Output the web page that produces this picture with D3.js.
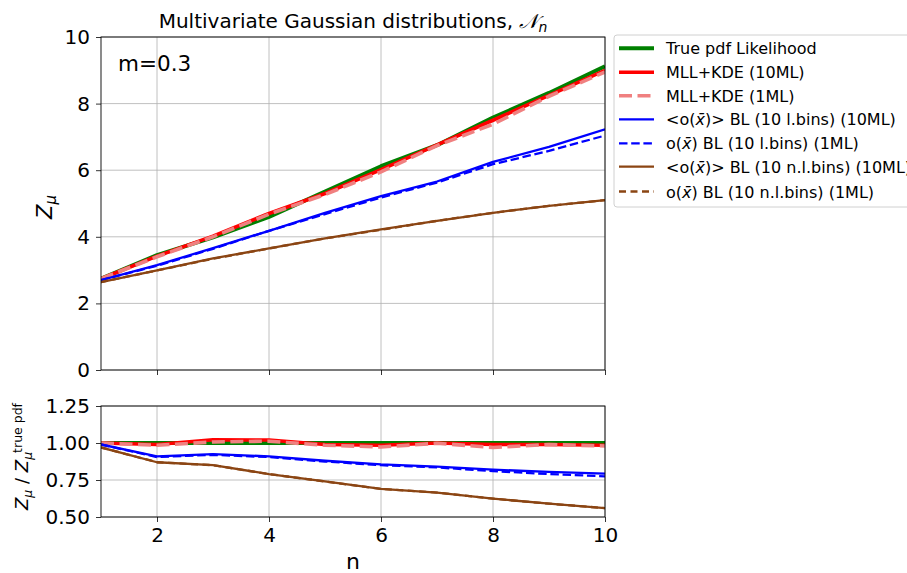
<!DOCTYPE html>
<html><head><meta charset="utf-8">
<script src="https://cdn.jsdelivr.net/npm/d3@7"></script>
<style>body{margin:0;background:#fff}text{font-family:"DejaVu Sans",sans-serif}</style>
</head><body><svg id="c" width="907" height="573"></svg>
<script>
const nVals = [1,2,3,4,5,6,7,8,9,10];
const truePdf  = [2.74,3.45,3.98,4.60,5.36,6.12,6.75,7.58,8.32,9.12];
const mll10    = [2.74,3.42,4.02,4.70,5.30,6.02,6.76,7.50,8.25,9.00];
const mll1     = [2.74,3.40,4.00,4.68,5.27,5.95,6.74,7.38,8.22,8.95];
const blue10   = [2.70,3.15,3.66,4.18,4.72,5.22,5.66,6.25,6.70,7.23];
const blue1    = [2.70,3.13,3.64,4.18,4.68,5.18,5.63,6.18,6.58,7.04];
const brown10  = [2.64,2.99,3.35,3.65,3.95,4.22,4.48,4.72,4.93,5.10];
const brown1   = [2.64,2.99,3.34,3.65,3.95,4.21,4.48,4.72,4.93,5.10];

const trueR    = [1,1,1,1,1,1,1,1,1,1];
const mll10R   = [1.00,0.99,1.022,1.02,0.99,0.985,1.00,0.99,0.99,0.985];
const mll1R    = [1.00,0.985,1.007,1.012,0.985,0.973,0.998,0.97,0.99,0.98];
const blue10R  = [0.99,0.91,0.925,0.91,0.88,0.855,0.84,0.82,0.805,0.793];
const blue1R   = [0.99,0.905,0.92,0.905,0.875,0.85,0.835,0.81,0.79,0.775];
const brown10R = [0.97,0.87,0.85,0.79,0.74,0.69,0.665,0.624,0.59,0.56];
const brown1R  = [0.97,0.87,0.85,0.79,0.74,0.69,0.665,0.624,0.59,0.56];

const xTicks = [2,4,6,8,10];
const yTicksTop = [0,2,4,6,8,10];
const yTicksBot = [0.50,0.75,1.00,1.25];

const seriesStyle = [
  {name:"True pdf Likelihood", top:truePdf, bot:trueR, color:"green", w:4, dash:null},
  {name:"MLL+KDE (10ML)", top:mll10, bot:mll10R, color:"red", w:3.6, dash:null},
  {name:"MLL+KDE (1ML)", top:mll1, bot:mll1R, color:"#f08080", w:3.6, dash:"13,5.5"},
  {name:"<o(x̄)> BL (10 l.bins) (10ML)", top:blue10, bot:blue10R, color:"blue", w:2.3, dash:null, ox:true, br:true},
  {name:"o(x̄) BL (10 l.bins) (1ML)", top:blue1, bot:blue1R, color:"blue", w:2.3, dash:"8.5,3.7", ox:true},
  {name:"<o(x̄)> BL (10 n.l.bins) (10ML)", top:brown10, bot:brown10R, color:"#8b4513", w:2.3, dash:null, ox:true, br:true},
  {name:"o(x̄) BL (10 n.l.bins) (1ML)", top:brown1, bot:brown1R, color:"#8b4513", w:2.3, dash:"7,4.5", ox:true}
];

const svg = d3.select("#c");
const L = 101, R = 605;
const x = d3.scaleLinear().domain([1,10]).range([L,R]);
const yT = d3.scaleLinear().domain([0,10]).range([370,37]);
const yB = d3.scaleLinear().domain([0.5,1.25]).range([517,406]);
const TF = 20;

function panel(y, ticks, fmt, key, showX){
  const g = svg.append("g");
  g.selectAll(".gx").data(xTicks).enter().append("line")
    .attr("x1",d=>x(d)).attr("x2",d=>x(d)).attr("y1",y.range()[0]).attr("y2",y.range()[1])
    .attr("stroke","#b0b0b0").attr("stroke-width",0.8);
  g.selectAll(".gy").data(ticks).enter().append("line")
    .attr("x1",L).attr("x2",R).attr("y1",d=>y(d)).attr("y2",d=>y(d))
    .attr("stroke","#b0b0b0").attr("stroke-width",0.8);
  const clip = "clip"+key;
  svg.append("clipPath").attr("id",clip).append("rect")
    .attr("x",L).attr("y",y.range()[1]).attr("width",R-L).attr("height",y.range()[0]-y.range()[1]);
  const line = d3.line().x((d,i)=>x(nVals[i])).y(d=>y(d));
  const lg = g.append("g").attr("clip-path",`url(#${clip})`);
  seriesStyle.forEach(s=>{
    lg.append("path").attr("d",line(s[key])).attr("fill","none")
      .attr("stroke",s.color).attr("stroke-width",s.w)
      .attr("stroke-dasharray",s.dash).attr("stroke-linejoin","round");
  });
  const ya = g.append("g").attr("transform",`translate(${L},0)`)
    .call(d3.axisLeft(y).tickValues(ticks).tickFormat(fmt).tickSize(5).tickPadding(6));
  ya.select(".domain").remove();
  ya.selectAll("text").attr("font-size",TF).attr("fill","#000").attr("font-family","DejaVu Sans");
  ya.selectAll("line").attr("stroke","#000").attr("stroke-width",0.8);
  const xa = g.append("g").attr("transform",`translate(0,${y.range()[0]})`)
    .call(d3.axisBottom(x).tickValues(xTicks).tickFormat(showX?d3.format("d"):()=>"").tickSize(5).tickPadding(6));
  xa.select(".domain").remove();
  xa.selectAll("text").attr("font-size",TF).attr("fill","#000").attr("font-family","DejaVu Sans");
  xa.selectAll("line").attr("stroke","#000").attr("stroke-width",0.8);
  g.append("rect").attr("x",L).attr("y",y.range()[1]).attr("width",R-L).attr("height",y.range()[0]-y.range()[1])
    .attr("fill","none").attr("stroke","#000").attr("stroke-width",0.9);
}
panel(yT, yTicksTop, d3.format("d"), "top", false);
panel(yB, yTicksBot, d3.format(".2f"), "bot", true);

// title
const t = svg.append("text").attr("x",353).attr("y",28).attr("text-anchor","middle").attr("font-size",20);
t.append("tspan").text("Multivariate Gaussian distributions, ");
t.append("tspan").attr("font-style","italic").text("𝒩");
t.append("tspan").attr("font-size",14).attr("dy",4).attr("font-style","italic").text("n");

svg.append("text").attr("x",118).attr("y",71).attr("font-size",21.5).text("m=0.3");

// y label top
const yl = svg.append("text").attr("transform","translate(52,207) rotate(-90)").attr("text-anchor","middle").attr("font-size",21);
yl.append("tspan").attr("font-style","italic").text("Z");
yl.append("tspan").attr("font-size",15).attr("dy",4).attr("font-style","italic").text("μ");

// y label bottom
const yl2 = svg.append("text").attr("transform","translate(28,456.5) rotate(-90)").attr("text-anchor","middle").attr("font-size",18);
yl2.append("tspan").attr("font-style","italic").text("Z");
yl2.append("tspan").attr("font-size",12.5).attr("dy",4).attr("font-style","italic").text("μ");
yl2.append("tspan").attr("dy",-4).text(" / ");
yl2.append("tspan").attr("font-style","italic").text("Z");
yl2.append("tspan").attr("font-size",12.5).attr("dy",4).attr("font-style","italic").text("μ");
yl2.append("tspan").attr("font-size",12.5).attr("dy",-10).attr("dx",-1).text("true pdf");

svg.append("text").attr("x",353).attr("y",569).attr("text-anchor","middle").attr("font-size",22).text("n");

// legend
const lg = svg.append("g");
lg.append("rect").attr("x",614).attr("y",35).attr("width",310).attr("height",172).attr("rx",3)
  .attr("fill","#fff").attr("stroke","#d0d0d0").attr("stroke-width",1);
const rowY = [48.3,72.3,95.7,119.3,143.3,166.7,191.5];
seriesStyle.forEach((s,i)=>{
  lg.append("line").attr("x1",619).attr("x2",654).attr("y1",rowY[i]).attr("y2",rowY[i])
    .attr("stroke",s.color).attr("stroke-width",s.w).attr("stroke-dasharray",s.dash);
  const tx = lg.append("text").attr("x",666).attr("y",rowY[i]+6).attr("font-size",16);
  if(!s.ox){ tx.text(s.name); }
  else {
    const pre = s.br ? "<o(" : "o(";
    const rest = s.name.slice(s.name.indexOf("x̄")+2);
    tx.append("tspan").text(pre);
    tx.append("tspan").attr("font-style","italic").text("x̄");
    tx.append("tspan").text(rest);
  }
});
</script></body></html>
